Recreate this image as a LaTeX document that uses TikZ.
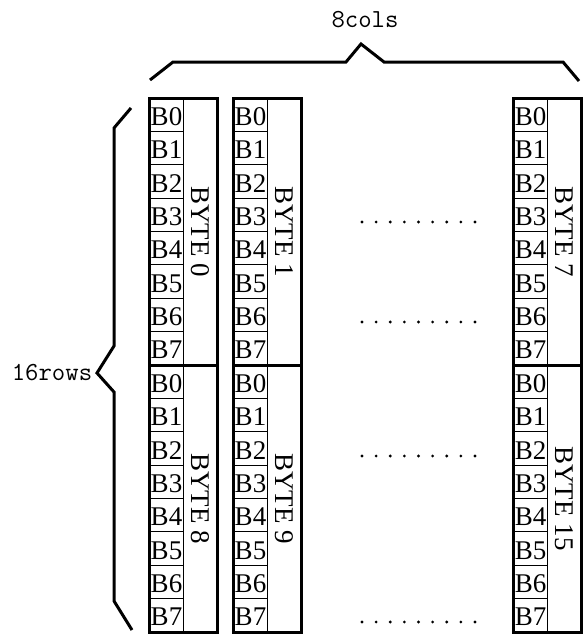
\documentclass[tikz,border=0pt]{standalone}
\usepackage{fontspec}
\newfontfamily\tnr{Liberation Serif}
\begin{document}
\begin{tikzpicture}[x=1pt,y=-1pt,
  outerline/.style={line width=3pt},
  thinline/.style={line width=0.9pt},
  braceline/.style={line width=3pt},
  bitlabel/.style={font=\tnr\fontsize{27}{27}\selectfont, inner sep=0pt},
  bytelabel/.style={font=\tnr\fontsize{27}{27}\selectfont, inner sep=0pt, rotate=-90},
  dimlabel/.style={font=\ttfamily\fontsize{26}{26}\selectfont, inner sep=0pt},
  dotmark/.style={fill=black}]
\useasboundingbox (0,0) rectangle (584,637);
% columns
\foreach \L/\ba/\bb in {149/0/8, 233/1/9, 513/7/15}{
  \foreach \T/\bn in {98/\ba, 365/\bb}{
    \foreach \i in {1,...,7}{
      \draw[thinline] (\L,\T+\i*33.375) -- (\L+34.5,\T+\i*33.375);
    }
    \foreach \i in {0,...,7}{
      \node[bitlabel] (b\L-\T-\i) at (\L+17.5,\T+\i*33.375+18.5) {B\i};
    }
    \node[bytelabel] (byte\bn) at (\L+51.5,\T+133.5) {BYTE \bn};
  }
  \draw[thinline] (\L+34.5,98) -- (\L+34.5,632);
  \draw[outerline] (\L,98) rectangle (\L+68,632);
  \draw[outerline] (\L,365) -- (\L+68,365);
}
% dots
\foreach \y in {222,322,456,622}{
  \foreach \k in {0,...,8}{
    \fill[dotmark] (362+\k*14.125,\y) circle (1.6);
  }
}
% top brace
\draw[braceline] (150,80) -- (173,62) -- (346,62) -- (361,44) -- (384,62) -- (563,62) -- (579,81);
\node[dimlabel] (cols) at (365,20) {8cols};
% left brace
\draw[braceline] (131,108) -- (114,128) -- (114,346) -- (97,373) -- (114,392) -- (114,601) -- (132,630);
\node[dimlabel] (rows) at (52,373) {16rows};
\end{tikzpicture}
\end{document}
